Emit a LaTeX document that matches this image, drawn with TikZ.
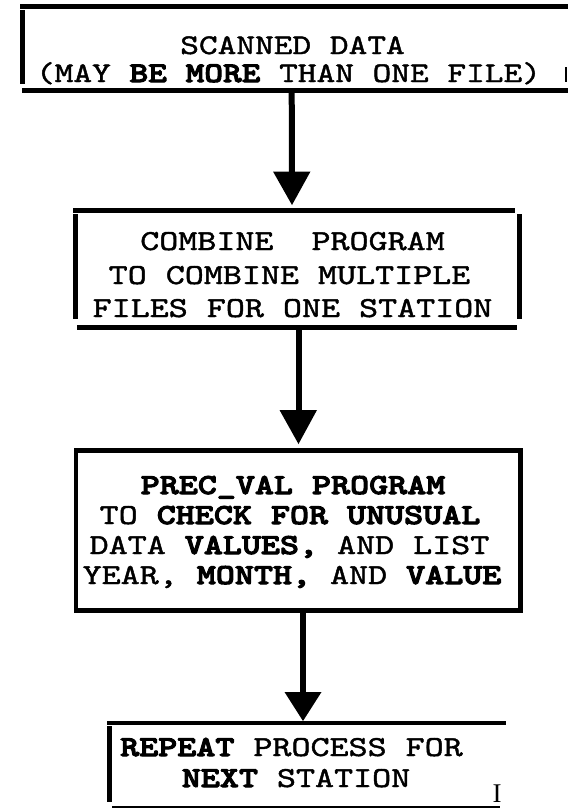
\documentclass[tikz,border=0pt]{standalone}
\usepackage{fontspec}
\newfontfamily\tw{lmmono10-regular.otf}[FakeStretch=1.25,FakeBold=1.5]
\newfontfamily\twb{lmmonolt10-bold.otf}[FakeStretch=1.25,FakeBold=3.5]
\newfontfamily\ser{Liberation Serif}
\newcommand\bw[1]{{\twb #1}}
\begin{document}
\begin{tikzpicture}[x=1pt,y=-1pt,
  edge/.style={line width=4.8pt},
  thinedge/.style={line width=2pt},
  shaft/.style={line width=6pt},
  head/.style={fill=black},
  txt/.style={inner sep=0pt, anchor=base, font=\tw\fontsize{29}{29}\selectfont},
  txtone/.style={inner sep=0pt, anchor=base, font=\tw\fontsize{28.5}{28.5}\selectfont},
  strayi/.style={inner sep=0pt, anchor=base, font=\ser\fontsize{27}{27}\selectfont}]
\useasboundingbox[fill=white] (0,0) rectangle (568,809);

% box 1
\draw[edge] (20,6.5) -- (568,6.5);
\draw[edge] (22.5,10) -- (22.5,84);
\draw[edge] (22,90.5) -- (568,90.5);
\draw[thinedge] (566,67) -- (566,82);
\node[txtone] (t1a) at (292.5,54) {SCANNED DATA};
\node[txtone] (t1b) at (288.5,82) {(MAY \bw{BE MORE} THAN ONE FILE)};
\coordinate (b1s) at (291.7,92);

% box 2
\draw[edge] (73,210.5) -- (515,210.5);
\draw[edge] (75.5,214) -- (75.5,319);
\draw[edge] (519.5,214) -- (519.5,319);
\draw[edge] (77,327.5) -- (517,327.5);
\node[txt] (t2a) at (292.5,250) {COMBINE\ \ PROGRAM};
\node[txt] (t2b) at (289.5,284) {TO COMBINE MULTIPLE};
\node[txt] (t2c) at (292.5,317) {FILES FOR ONE STATION};
\coordinate (b2n) at (292,205);
\coordinate (b2s) at (298.5,329);

% box 3
\draw[edge] (76,450.5) rectangle (520.5,610.5);
\node[txt] (t3a) at (293,494) {\bw{PREC\_VAL PROGRAM}};
\node[txt] (t3b) at (290,524) {TO \bw{CHECK FOR UNUSUAL}};
\node[txt] (t3c) at (289.5,554) {DATA \bw{VALUES,} AND LIST};
\node[txt] (t3d) at (292,584) {YEAR, \bw{MONTH,} AND \bw{VALUE}};
\coordinate (b3n) at (298.5,444);
\coordinate (b3s) at (303,612);

% box 4
\draw[edge] (107,723) -- (506,723);
\draw[edge] (109.5,726) -- (109.5,802);
\draw[line width=2.5pt] (112,807) -- (500,807);
\node[txt] (t4a) at (291.5,756) {\bw{REPEAT} PROCESS FOR};
\node[txt] (t4b) at (296,787) {\bw{NEXT} STATION};
\node[strayi] (m4) at (497,802) {I};
\coordinate (b4n) at (303,721);

% arrows
\draw[shaft] (b1s) -- ([yshift=32pt]b2n);
\fill[head] (b2n) -- ++(-19,-33.5) -- ++(37.5,0) -- cycle;
\draw[shaft] (b2s) -- ([yshift=33pt]b3n);
\fill[head] (b3n) -- ++(-19,-34) -- ++(37.5,0) -- cycle;
\draw[shaft] (b3s) -- ([yshift=28pt]b4n);
\fill[head] (b4n) -- ++(-18.5,-29) -- ++(37,0) -- cycle;
\end{tikzpicture}
\end{document}
